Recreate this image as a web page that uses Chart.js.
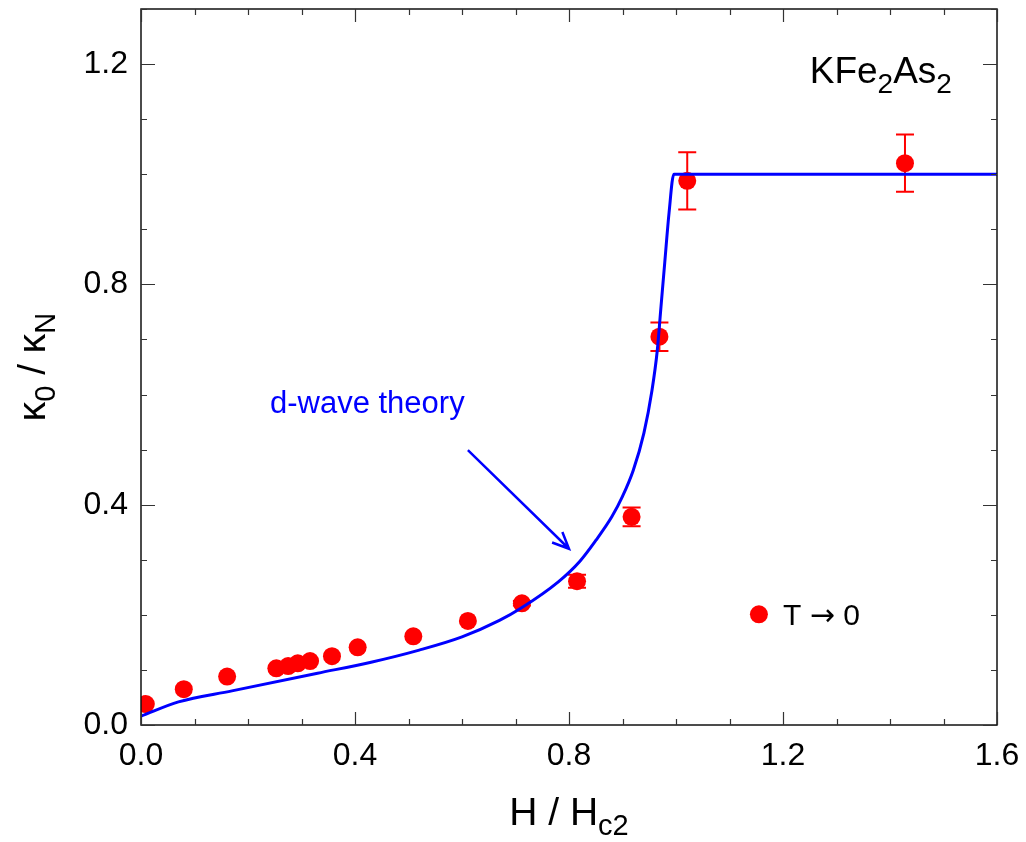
<!DOCTYPE html>
<html>
<head>
<meta charset="utf-8">
<script src="https://cdn.jsdelivr.net/npm/chart.js@4.4.1/dist/chart.umd.min.js"></script>
<style>
  html, body { margin: 0; padding: 0; background: #fff; }
  #wrap { width: 1026px; height: 842px; }
</style>
</head>
<body>
<div id="wrap"><canvas id="myChart" width="1026" height="842"></canvas></div>
<script>
// measured points, T -> 0
const hField = [0.009, 0.080, 0.161, 0.253, 0.275, 0.293, 0.316, 0.357, 0.405, 0.509, 0.611, 0.712, 0.815, 0.917, 0.969, 1.021, 1.428];
const kappa = [0.038, 0.065, 0.088, 0.103, 0.107, 0.112, 0.116, 0.125, 0.141, 0.161, 0.189, 0.221, 0.261, 0.378, 0.705, 0.988, 1.020];
const kappaErr = [0, 0, 0, 0, 0, 0, 0, 0, 0, 0, 0, 0.004, 0.012, 0.017, 0.026, 0.052, 0.052];

// d-wave theory curve
const theoryH = [0, 0.07, 0.17, 0.33, 0.43, 0.52, 0.6, 0.67, 0.71, 0.78, 0.82, 0.85, 0.88, 0.9, 0.92, 0.94, 0.955, 0.965, 0.972, 0.979, 0.987, 0.996, 1.6];
const theoryK = [0.016, 0.042, 0.062, 0.094, 0.114, 0.136, 0.16, 0.19, 0.212, 0.26, 0.297, 0.335, 0.378, 0.415, 0.462, 0.53, 0.607, 0.68, 0.76, 0.84, 0.93, 1.0, 1.0];

const xTicks = [0, 0.4, 0.8, 1.2, 1.6];
const yTicks = [0, 0.4, 0.8, 1.2];

const FONT = '"Liberation Sans", Arial, sans-serif';
const RED = '#ff0000';
const BLUE = '#0000ff';

const ctx = document.getElementById('myChart');

// draws a string made of parts, some of them subscript
function richText(c, parts, y, size, subSize, subDrop) {
    let w = 0;
    const fontOf = p => (p.sub ? subSize : size) + 'px ' + (p.family || FONT);
    parts.forEach(p => {
        c.font = fontOf(p);
        p.w = c.measureText(p.t).width;
        w += p.w;
    });
    return {
        width: w,
        draw(startX) {
            let cx = startX;
            parts.forEach(p => {
                c.font = fontOf(p);
                c.fillText(p.t, cx, y + (p.sub ? subDrop : 0));
                cx += p.w;
            });
        }
    };
}

function noPad(s) {
    s.paddingLeft = 0; s.paddingRight = 0; s.paddingTop = 0; s.paddingBottom = 0;
}

const framePlugin = {
    id: 'frame',
    beforeDatasetsDraw(chart) {
        const c = chart.ctx;
        const xs = chart.scales.x, ys = chart.scales.y;
        // error bars
        c.save();
        c.strokeStyle = RED;
        c.lineWidth = 2;
        hField.forEach((h, i) => {
            const e = kappaErr[i];
            if (!e) return;
            const px = xs.getPixelForValue(h);
            const top = ys.getPixelForValue(kappa[i] + e);
            const bot = ys.getPixelForValue(kappa[i] - e);
            c.beginPath();
            c.moveTo(px, top); c.lineTo(px, bot);
            c.moveTo(px - 9, top); c.lineTo(px + 9, top);
            c.moveTo(px - 9, bot); c.lineTo(px + 9, bot);
            c.stroke();
        });
        c.restore();
    },
    afterDatasetsDraw(chart) {
        const c = chart.ctx;
        const a = chart.chartArea;
        const xs = chart.scales.x, ys = chart.scales.y;
        c.save();
        // frame
        c.strokeStyle = '#111';
        c.lineWidth = 1.5;
        c.strokeRect(a.left, a.top, a.right - a.left, a.bottom - a.top);
        // inward ticks on all four sides
        c.lineWidth = 1.2;
        c.strokeStyle = '#333';
        c.beginPath();
        for (let k = 0; k <= 16; k++) {
            const px = Math.round(xs.getPixelForValue(k / 10)) + 0.5;
            const len = k % 4 === 0 ? 13 : 6;
            c.moveTo(px, a.bottom); c.lineTo(px, a.bottom - len);
            c.moveTo(px, a.top); c.lineTo(px, a.top + len);
        }
        for (let k = 0; k <= 13; k++) {
            const py = Math.round(ys.getPixelForValue(k / 10)) + 0.5;
            const len = k % 4 === 0 ? 14 : 6;
            c.moveTo(a.left, py); c.lineTo(a.left + len, py);
            c.moveTo(a.right, py); c.lineTo(a.right - len, py);
        }
        c.stroke();

        // arrow pointing at the theory curve
        const x0 = xs.getPixelForValue(0.611), y0 = ys.getPixelForValue(0.499);
        const x1 = xs.getPixelForValue(0.8), y1 = ys.getPixelForValue(0.320);
        const ang = Math.atan2(y1 - y0, x1 - x0);
        c.strokeStyle = BLUE;
        c.lineWidth = 2.5;
        c.beginPath();
        c.moveTo(x0, y0); c.lineTo(x1, y1);
        c.moveTo(x1 - 18 * Math.cos(ang - 0.42), y1 - 18 * Math.sin(ang - 0.42));
        c.lineTo(x1, y1);
        c.lineTo(x1 - 18 * Math.cos(ang + 0.42), y1 - 18 * Math.sin(ang + 0.42));
        c.stroke();

        // labels
        c.textBaseline = 'alphabetic';
        c.textAlign = 'left';
        c.fillStyle = BLUE;
        c.font = '31px ' + FONT;
        c.fillText('d-wave theory', xs.getPixelForValue(0.241), ys.getPixelForValue(0.566));

        c.fillStyle = '#000';
        const comp = richText(c, [{t: 'KFe'}, {t: '2', sub: true}, {t: 'As'}, {t: '2', sub: true}],
            ys.getPixelForValue(1.165), 37, 28, 10);
        comp.draw(xs.getPixelForValue(1.25));

        // legend
        c.fillStyle = RED;
        c.beginPath();
        c.arc(xs.getPixelForValue(1.155), ys.getPixelForValue(0.201), 9, 0, Math.PI * 2);
        c.fill();
        c.fillStyle = '#000';
        const leg = richText(c, [{t: 'T '}, {t: '\u2192', family: '"DejaVu Sans", sans-serif'}, {t: ' 0'}],
            ys.getPixelForValue(0.181), 30, 30, 0);
        leg.draw(xs.getPixelForValue(1.2));

        // axis titles
        const xt = richText(c, [{t: 'H / H'}, {t: 'c2', sub: true}], 825, 39, 29, 10);
        xt.draw((a.left + a.right) / 2 - xt.width / 2);

        c.translate(45, (a.top + a.bottom) / 2);
        c.rotate(-Math.PI / 2);
        const yt = richText(c, [{t: '\u03BA'}, {t: '0', sub: true}, {t: ' / \u03BA'}, {t: 'N', sub: true}], 0, 39, 29, 10);
        yt.draw(-yt.width / 2);
        c.restore();
    }
};

new Chart(ctx, {
    type: 'scatter',
    data: {
        datasets: [{
            label: 'd-wave theory',
            data: theoryH.map((h, i) => ({ x: h, y: theoryK[i] })),
            showLine: true,
            borderColor: BLUE,
            borderWidth: 3,
            pointRadius: 0,
            cubicInterpolationMode: 'monotone',
            order: 0
        }, {
            label: 'T \u2192 0',
            data: hField.map((h, i) => ({ x: h, y: kappa[i] })),
            backgroundColor: RED,
            borderColor: RED,
            pointRadius: 9,
            borderWidth: 0,
            order: 1
        }]
    },
    options: {
        responsive: false,
        animation: false,
        layout: { padding: { left: 0, top: 9, right: 29, bottom: 0 } },
        plugins: {
            legend: { display: false },
            tooltip: { enabled: false }
        },
        scales: {
            x: {
                type: 'linear',
                min: 0,
                max: 1.6,
                grid: { display: false, drawTicks: false },
                border: { display: false },
                afterBuildTicks: s => { s.ticks = xTicks.map(v => ({ value: v })); },
                afterFit: s => { s.height = 117; noPad(s); },
                ticks: {
                    padding: 12,
                    color: '#000',
                    font: { family: FONT, size: 32 },
                    callback: v => Number(v).toFixed(1)
                }
            },
            y: {
                type: 'linear',
                min: 0,
                max: 1.3,
                grid: { display: false, drawTicks: false },
                border: { display: false },
                afterBuildTicks: s => { s.ticks = yTicks.map(v => ({ value: v })); },
                afterFit: s => { s.width = 141; noPad(s); },
                ticks: {
                    padding: 13,
                    color: '#000',
                    font: { family: FONT, size: 32 },
                    callback: v => Number(v).toFixed(1)
                }
            }
        }
    },
    plugins: [framePlugin]
});
</script>
</body>
</html>
